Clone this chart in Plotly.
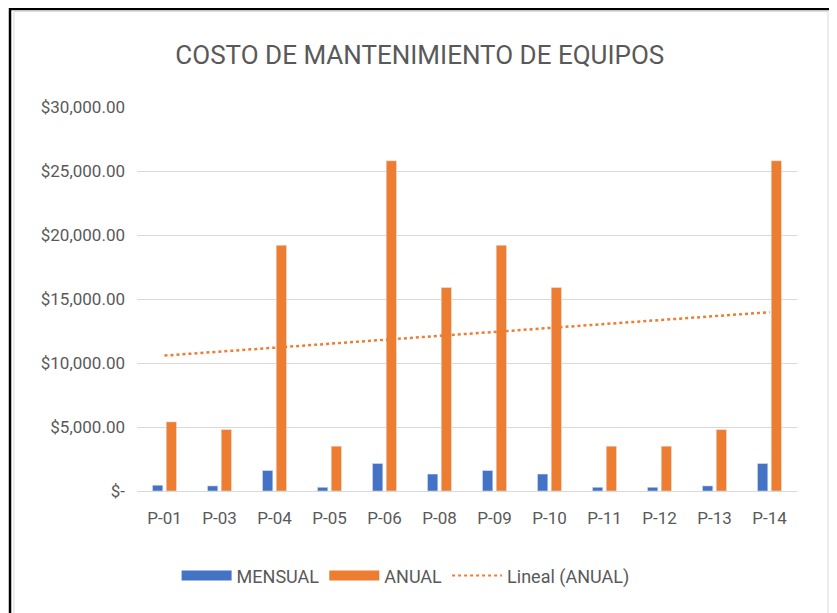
import numpy as np
import plotly.graph_objects as go

equipos = ['P-01', 'P-03', 'P-04', 'P-05', 'P-06', 'P-08', 'P-09', 'P-10', 'P-11', 'P-12', 'P-13', 'P-14']
mensual = [450, 400, 1600, 290, 2150, 1325, 1600, 1325, 290, 290, 400, 2150]
anual = [5400, 4800, 19200, 3500, 25800, 15900, 19200, 15900, 3500, 3500, 4800, 25800]
y_ticks = [0, 5000, 10000, 15000, 20000, 25000, 30000]
y_labels = ['$-', '$5,000.00', '$10,000.00', '$15,000.00', '$20,000.00', '$25,000.00', '$30,000.00']

# linea de tendencia lineal sobre ANUAL (como la de Excel)
xs = np.arange(1, len(anual) + 1)
m, b = np.polyfit(xs, anual, 1)
tendencia = m * xs + b

azul = '#4472C4'
naranja = '#ED7D31'
gris_txt = '#595959'
font_fam = 'Roboto, Noto Sans, sans-serif'

fig = go.Figure()
fig.add_trace(go.Bar(x = equipos, y = mensual, name = 'MENSUAL', marker_color = azul, showlegend = False))
fig.add_trace(go.Bar(x = equipos, y = anual, name = 'ANUAL', marker_color = naranja, showlegend = False))
fig.add_trace(go.Scatter(
    x = equipos, y = tendencia, mode = 'lines',
    line = dict(color = naranja, width = 2.5, dash = 'dot'),
    showlegend = False, hoverinfo = 'skip'
))

# entradas de leyenda con muestras anchas, estilo Excel
for nombre, color, ancho, estilo in [
    ('MENSUAL', azul, 11, 'solid'),
    ('ANUAL', naranja, 11, 'solid'),
    ('Lineal (ANUAL)', naranja, 2, 'dot'),
]:
    fig.add_trace(go.Scatter(
        x = [None], y = [None], mode = 'lines', name = nombre,
        line = dict(color = color, width = ancho, dash = estilo)
    ))

# marco negro exterior y borde gris del grafico
fig.add_shape(type = 'rect', xref = 'paper', yref = 'paper',
              x0 = -0.1924, x1 = 1.0515, y0 = -0.36, y1 = 1.2552,
              line = dict(color = 'black', width = 2.5), layer = 'below')
fig.add_shape(type = 'rect', xref = 'paper', yref = 'paper',
              x0 = -0.1864, x1 = 1.047, y0 = -0.36, y1 = 1.249,
              line = dict(color = '#D9D9D9', width = 1), layer = 'below')

fig.update_layout(
    width = 837, height = 613,
    margin = dict(l = 129, r = 48, t = 99, b = 130),
    paper_bgcolor = 'white', plot_bgcolor = 'white',
    barmode = 'group', bargap = 0.5, bargroupgap = 0.25,
    title = dict(
        text = 'COSTO DE MANTENIMIENTO DE EQUIPOS',
        x = 0.492, xanchor = 'center', y = 0.923, yanchor = 'middle',
        font = dict(family = font_fam, size = 26, color = gris_txt)
    ),
    font = dict(family = font_fam, size = 17, color = gris_txt),
    xaxis = dict(
        showgrid = False, showline = True, linecolor = '#D9D9D9', linewidth = 1,
        ticks = '', ticklabelstandoff = 12, tickfont = dict(size = 17, color = gris_txt)
    ),
    yaxis = dict(
        range = [0, 30000], tickvals = y_ticks, ticktext = y_labels,
        showgrid = True, gridcolor = '#D9D9D9', gridwidth = 1,
        zeroline = False, showline = False, ticks = '',
        ticklabelstandoff = 11,
        tickfont = dict(size = 17, color = gris_txt)
    ),
    legend = dict(
        orientation = 'h', x = 0.06, xanchor = 'left', y = -0.221, yanchor = 'middle',
        itemwidth = 50, font = dict(size = 18, color = gris_txt)
    ),
)

fig.write_html('out.html')
